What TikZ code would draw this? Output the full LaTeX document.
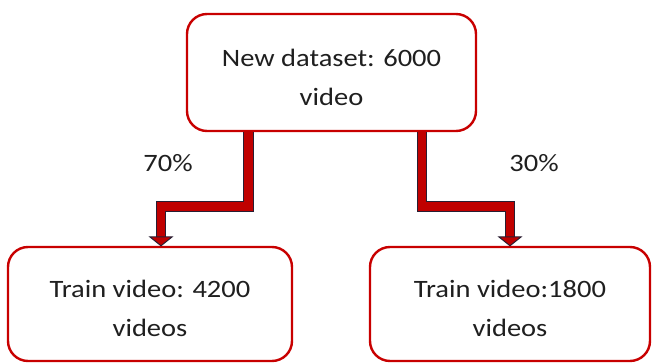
\documentclass[tikz,border=0pt]{standalone}
\usepackage{fontspec}
\setmainfont{Carlito}[FakeStretch=1.14]
\definecolor{boxred}{RGB}{200,0,0}
\definecolor{arrred}{RGB}{192,0,0}
\definecolor{arrdark}{RGB}{40,30,50}
\newcommand{\topstrut}{\rule{0pt}{27pt}}
\tikzset{
  databox/.style={draw=boxred, line width=2.4pt, rounded corners=20pt, fill=white,
    align=center, inner sep=0pt, text=black!88,
    font=\fontsize{25}{39}\selectfont},
  pct/.style={font=\fontsize{25}{28}\selectfont, text=black!88, inner sep=0pt},
  shaftout/.style={line width=10.5pt, draw=arrdark, line join=miter, line cap=butt},
  shaftin/.style={line width=8.5pt, draw=arrred, line join=miter, line cap=butt},
  headtri/.style={fill=arrred, draw=arrdark, line width=1pt, line join=miter}
}
\begin{document}
\begin{tikzpicture}[x=1pt,y=-1pt]
\useasboundingbox (0,0) rectangle (654,363);
\node[databox, minimum width=289pt, minimum height=117pt] (top) at (331.5,72.5) {\topstrut New dataset: 6000\\video};
\node[databox, minimum width=284pt, minimum height=114pt] (left) at (150,304) {\topstrut Train video: 4200\\videos};
\node[databox, minimum width=280pt, minimum height=114pt] (right) at (510,304) {\topstrut Train video:1800\\videos};
\node[pct] (p70) at (168,163) {70\%};
\node[pct] (p30) at (534,163) {30\%};
% left connector
\coordinate (la) at (248.5,131);
\coordinate (lb) at (248.5,206.5);
\coordinate (lc) at (161,206.5);
\coordinate (ld) at (161,237);
\coordinate (lt) at (161,247);
\draw[shaftout] (la |- top.south) -- (lb) -- (lc) -- (ld);
\draw[shaftin] ([yshift=0.8pt]la |- top.south) -- (lb) -- (lc) -- (ld);
\draw[headtri] ([xshift=-11pt]ld) -- ([xshift=11pt]ld) -- (lt |- left.north) -- cycle;
% right connector
\coordinate (ra) at (422,131);
\coordinate (rb) at (422,206.5);
\coordinate (rc) at (510,206.5);
\coordinate (rd) at (510,237);
\coordinate (rt) at (510,247);
\draw[shaftout] (ra |- top.south) -- (rb) -- (rc) -- (rd);
\draw[shaftin] ([yshift=0.8pt]ra |- top.south) -- (rb) -- (rc) -- (rd);
\draw[headtri] ([xshift=-11pt]rd) -- ([xshift=11pt]rd) -- (rt |- right.north) -- cycle;
\end{tikzpicture}
\end{document}
